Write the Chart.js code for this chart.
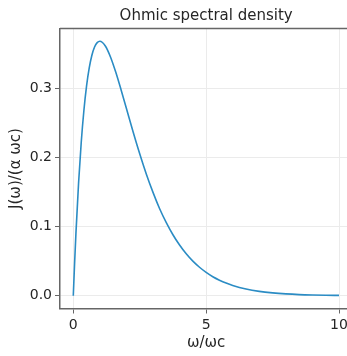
<!DOCTYPE html>
<html>
<head>
<meta charset="utf-8">
<script src="https://cdn.jsdelivr.net/npm/chart.js@4.4.1/dist/chart.umd.min.js"></script>
<style>
	html, body { margin: 0; padding: 0; overflow: hidden; background: #fff; }
	#wrap { width: 360px; height: 356px; }
</style>
</head>
<body>
<div id="wrap"><canvas id="spectral" width="360" height="356"></canvas></div>
<script>
// values
const omega = [0, 0.05, 0.1, 0.2, 0.3, 0.4, 0.5, 0.6, 0.7, 0.8, 0.9, 1.0, 1.2, 1.4, 1.6, 1.8, 2.0, 2.25, 2.5, 2.75, 3.0, 3.25, 3.5, 3.75, 4.0, 4.25, 4.5, 4.75, 5.0, 5.25, 5.5, 5.75, 6.0, 6.5, 7.0, 7.5, 8.0, 8.5, 9.0, 9.5, 10.0];
const spectral = [0, 0.0476, 0.0905, 0.1637, 0.2222, 0.2681, 0.3033, 0.3293, 0.3476, 0.3595, 0.3659, 0.3679, 0.3614, 0.3452, 0.3230, 0.2975, 0.2707, 0.2371, 0.2052, 0.1757, 0.1494, 0.1258, 0.1057, 0.0882, 0.0733, 0.0606, 0.0500, 0.0412, 0.0337, 0.0275, 0.0225, 0.0183, 0.0149, 0.0098, 0.0064, 0.0042, 0.0027, 0.0017, 0.0011, 0.0007, 0.0005];
const xTicks = [0, 5, 10];
const yTicks = [0.0, 0.1, 0.2, 0.3];
const chartTitle = 'Ohmic spectral density';

const frameColor = '#666';
const gridColor = '#ebebeb';
const textColor = '#262626';
const font = 'DejaVu Sans';

// top/right frame + title centred over the plot area
const frameAndTitle = {
	id: 'frameAndTitle',
	afterDraw(c) {
		const a = c.chartArea, ctx = c.ctx;
		ctx.save();
		ctx.strokeStyle = frameColor;
		ctx.lineWidth = 1.5;
		ctx.beginPath();
		ctx.moveTo(a.left, a.top);
		ctx.lineTo(a.right, a.top);
		ctx.lineTo(a.right, a.bottom);
		ctx.stroke();
		ctx.fillStyle = textColor;
		ctx.font = `15px "${font}"`;
		ctx.textAlign = 'center';
		ctx.textBaseline = 'middle';
		ctx.fillText(chartTitle, (a.left + a.right) / 2, 16);
		ctx.restore();
	}
};

const ctx = document.getElementById('spectral').getContext('2d');
new Chart(ctx, {
	type: 'line',
	data: {
		datasets: [{
			data: omega.map((w, i) => ({ x: w, y: spectral[i] })),
			borderColor: '#2b8cc4',
			borderWidth: 1.6,
			pointRadius: 0,
			cubicInterpolationMode: 'monotone',
			fill: false
		}]
	},
	options: {
		responsive: false,
		animation: false,
		layout: { padding: { left: 0, right: 7.7, top: 28.5, bottom: 0 } },
		plugins: {
			legend: { display: false },
			tooltip: { enabled: false },
			title: { display: false }
		},
		scales: {
			x: {
				type: 'linear',
				min: -0.5, max: 10.5,
				afterFit: s => { s.height = 47.5; },
				afterBuildTicks: s => { s.ticks = xTicks.map(v => ({ value: v })); },
				grid: { color: gridColor, tickColor: frameColor, tickLength: 5, lineWidth: 1 },
				border: { color: frameColor, width: 1.5 },
				ticks: { color: textColor, font: { family: font, size: 14 }, padding: 3, maxRotation: 0, callback: v => String(v) },
				title: { display: true, text: 'ω/ωc', color: textColor, font: { family: font, size: 15 }, padding: { top: 3, bottom: 4 } }
			},
			y: {
				min: -0.0184, max: 0.3863,
				afterFit: s => { s.width = 60; },
				afterBuildTicks: s => { s.ticks = yTicks.map(v => ({ value: v })); },
				grid: { color: gridColor, tickColor: frameColor, tickLength: 5, lineWidth: 1 },
				border: { color: frameColor, width: 1.5 },
				ticks: { color: textColor, font: { family: font, size: 14 }, padding: 3, callback: v => v.toFixed(1) },
				title: { display: true, text: 'J(ω)/(α ωc)', color: textColor, font: { family: font, size: 15 }, padding: { top: 7, bottom: 0 } }
			}
		}
	},
	plugins: [frameAndTitle]
});
</script>
</body>
</html>
